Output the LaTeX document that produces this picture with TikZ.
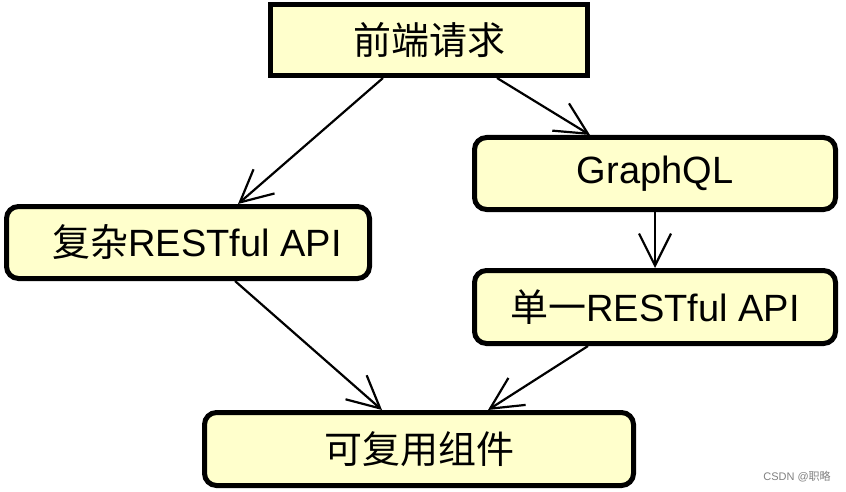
\documentclass[tikz,border=0pt]{standalone}
\usepackage{fontspec}
\setmainfont{Liberation Sans}
\newfontfamily\cjk{Noto Sans CJK SC}
\usepackage{tikz}
\usetikzlibrary{arrows.meta}
\definecolor{boxfill}{RGB}{255,255,204}
\tikzstyle{box}=[draw=black,fill=boxfill,line width=5pt,rounded corners=12pt,inner sep=0pt,font=\fontsize{38}{40}\selectfont]
\tikzstyle{arr}=[line width=2.2pt,-{Straight Barb[length=32pt,width=32pt,line width=2.2pt]}]

\begin{document}
\begin{tikzpicture}[x=1pt,y=1pt]
\useasboundingbox (0,0) rectangle (846,-492);
\node[box,rounded corners=0pt,minimum width=317pt,minimum height=71pt] (req) at (429,-40) {{\cjk 前端请求}};
\node[box,minimum width=361pt,minimum height=72pt] (gql) at (655,-173.5) {GraphQL};
\node[box,minimum width=363pt,minimum height=72pt] (complex) at (188,-242.5) {\hspace{18pt}{\cjk 复杂}RESTful API};
\node[box,minimum width=361pt,minimum height=73pt] (single) at (655,-307) {{\cjk 单一}RESTful API};
\node[box,minimum width=429pt,minimum height=73pt] (reuse) at (419,-449) {{\cjk 可复用组件}};
\draw[arr] ([xshift=-46pt]req.south)--([xshift=50pt]complex.north);
\draw[arr] ([xshift=68pt]req.south)--([xshift=-65pt]gql.north);
\draw[arr] (gql.south)--(single.north);
\draw[arr] ([xshift=47pt]complex.south)--([xshift=-37pt]reuse.north);
\draw[arr] ([xshift=-67pt]single.south)--([xshift=69pt]reuse.north);
\node[text=gray,font=\fontsize{11}{12}\selectfont] (mark) at (797,-477) {CSDN @{\cjk 职略}};
\end{tikzpicture}
\end{document}
